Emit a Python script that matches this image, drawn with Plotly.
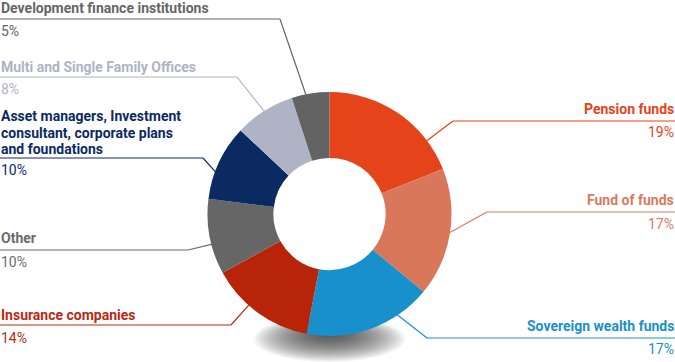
import plotly.graph_objects as go
import math

# ---- data ----
categories = [
    "Pension funds",
    "Fund of funds",
    "Sovereign wealth funds",
    "Insurance companies",
    "Other",
    "Asset managers, Investment consultant, corporate plans and foundations",
    "Multi and Single Family Offices",
    "Development finance institutions",
]
values = [19, 17, 17, 14, 10, 10, 8, 5]
label_lines = [
    ["Pension funds"],
    ["Fund of funds"],
    ["Sovereign wealth funds"],
    ["Insurance companies"],
    ["Other"],
    ["Asset managers, Investment", "consultant, corporate plans", "and foundations"],
    ["Multi and Single Family Offices"],
    ["Development finance institutions"],
]

# ---- styles / layout ----
slice_colors = ["#E5431A", "#D9775A", "#1890CB", "#B82407", "#666666", "#0C2A62", "#AEB4C6", "#636363"]
text_colors = ["#E5431A", "#DB7A5E", "#1A8FCB", "#B82A12", "#6B6B6B", "#0C2A62", "#AEB4C6", "#666666"]

W, H = 675, 362
CX, CY, R = 329.5, 214, 122
HOLE = 0.46
FONT_SIZE = 14

# label layout per slice
side = ["right", "right", "right", "left", "left", "left", "left", "left"]
title_y = [109, 200, 326, 315, 238, 116, 67, 8]
line_y = [121, 212, 338, 325, 250, 158, 77, 19]
pct_y = [132, 224, 349, 338, 262, 170, 89, 31]
elbow_x = [453, 487, 427, 231, 188, 203, 237, 280]
anchor_frac = [0.775, 0.5, 0.27, 0.61, 0.40, 0.36, 0.5, 0.38]
LINE_SPACING = 16.5

def px(x):
    return x / W

def py(y):
    return 1 - y / H

fig = go.Figure()
fig.add_trace(go.Pie(
    labels=categories,
    values=values,
    hole=HOLE,
    sort=False,
    direction="clockwise",
    rotation=0,
    marker=dict(colors=slice_colors, line=dict(width=0)),
    textinfo="none",
    hoverinfo="none",
    showlegend=False,
    domain=dict(x=[px(CX - R), px(CX + R)], y=[py(CY + R), py(CY - R)]),
))

shapes = []
# soft shadow under the donut
N = 30
for i in range(N):
    k = 1 - i / N
    rx = 70 * k + 6
    ry = 21 * k + 2
    cy = 339 - 5 * (1 - k)
    shapes.append(dict(
        type="circle", xref="paper", yref="paper", layer="below",
        x0=px(CX - rx), x1=px(CX + rx), y0=py(cy + ry), y1=py(cy - ry),
        fillcolor="rgba(50,50,50,0.045)", line=dict(width=0),
    ))

annotations = []
total = sum(values)
cum = 0
for i, v in enumerate(values):
    a0 = cum / total * 360
    a1 = (cum + v) / total * 360
    cum += v
    ang = math.radians(a0 + (a1 - a0) * anchor_frac[i])
    ax = CX + (R - 1) * math.sin(ang)
    ay = CY - (R - 1) * math.cos(ang)
    ly = line_y[i]
    ex = elbow_x[i]
    col = text_colors[i]
    shapes.append(dict(type="line", xref="paper", yref="paper",
                       x0=px(ax), y0=py(ay), x1=px(ex), y1=py(ly),
                       line=dict(color=col, width=1.2)))
    xend = 0 if side[i] == "left" else W
    shapes.append(dict(type="line", xref="paper", yref="paper",
                       x0=px(ex), y0=py(ly), x1=px(xend), y1=py(ly),
                       line=dict(color=col, width=1.2)))
    tx = 0.0 if side[i] == "left" else 1.0
    anchor = "left" if side[i] == "left" else "right"
    for j, t in enumerate(label_lines[i]):
        annotations.append(dict(
            x=tx, y=py(title_y[i] + j * LINE_SPACING), xref="paper", yref="paper",
            text="<b>" + t + "</b>", showarrow=False, xanchor=anchor, yanchor="middle",
            borderpad=0,
            font=dict(family="Roboto", size=FONT_SIZE, color=col),
        ))
    annotations.append(dict(
        x=tx, y=py(pct_y[i]), xref="paper", yref="paper",
        text=f"{v}%", showarrow=False, xanchor=anchor, yanchor="middle",
        borderpad=0,
        font=dict(family="Roboto", size=FONT_SIZE, color=col),
    ))

fig.update_layout(
    width=W, height=H, autosize=False,
    margin=dict(l=0, r=0, t=0, b=0),
    paper_bgcolor="white", plot_bgcolor="white",
    shapes=shapes, annotations=annotations,
)
fig.write_html("out.html")
